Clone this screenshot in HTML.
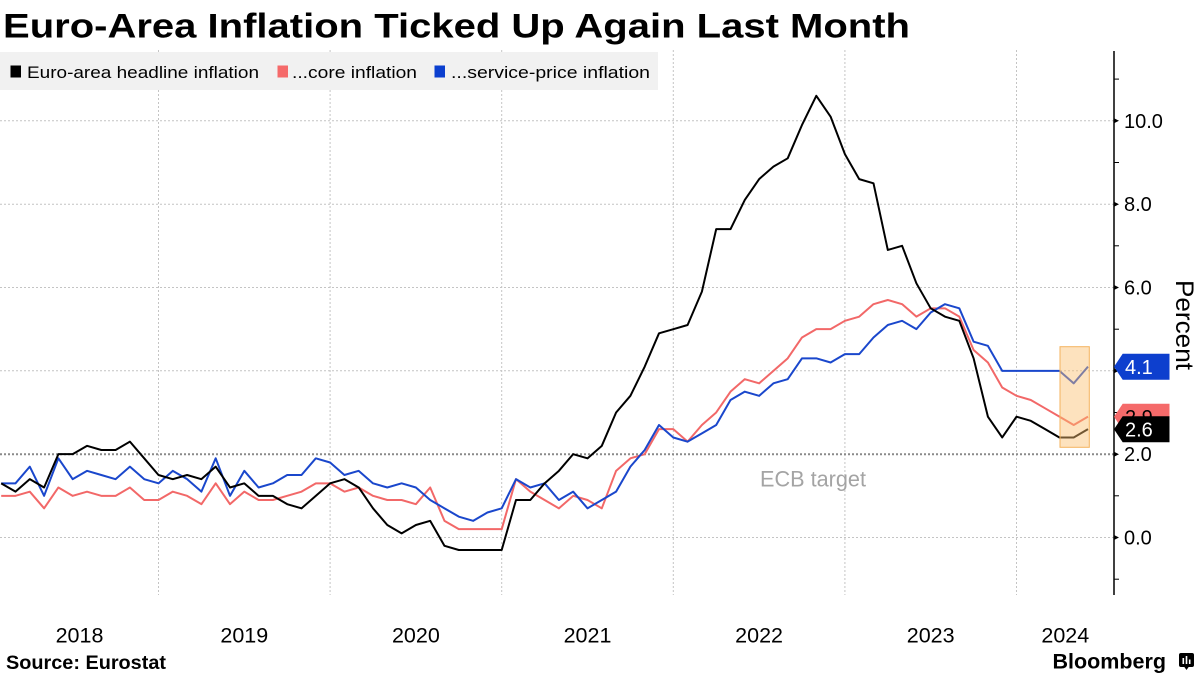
<!DOCTYPE html>
<html>
<head>
<meta charset="utf-8">
<style>
  html,body{margin:0;padding:0;background:#fff;}
  svg{display:block;}
  text{font-family:"Liberation Sans", Arial, sans-serif;}
</style>
</head>
<body>
<svg width="1200" height="675" viewBox="0 0 1200 675" xmlns="http://www.w3.org/2000/svg">
  <rect x="0" y="0" width="1200" height="675" fill="#ffffff"/>

  <!-- Title -->
  <text x="3" y="37.5" font-size="34" font-weight="bold" fill="#000" textLength="907" lengthAdjust="spacingAndGlyphs">Euro-Area Inflation Ticked Up Again Last Month</text>

  <!-- Vertical gridlines (year boundaries) -->
  <g stroke="#c4c4c4" stroke-width="1" stroke-dasharray="2,2" fill="none">
    <line x1="158.5" y1="50" x2="158.5" y2="595"/>
    <line x1="330.1" y1="50" x2="330.1" y2="595"/>
    <line x1="501.7" y1="50" x2="501.7" y2="595"/>
    <line x1="673.3" y1="50" x2="673.3" y2="595"/>
    <line x1="844.9" y1="50" x2="844.9" y2="595"/>
    <line x1="1016.5" y1="50" x2="1016.5" y2="595"/>
  </g>
  <!-- Horizontal gridlines -->
  <g stroke="#c4c4c4" stroke-width="1" stroke-dasharray="2,2" fill="none">
    <line x1="0" y1="120.8" x2="1114" y2="120.8"/>
    <line x1="0" y1="204.2" x2="1114" y2="204.2"/>
    <line x1="0" y1="287.5" x2="1114" y2="287.5"/>
    <line x1="0" y1="370.8" x2="1114" y2="370.8"/>
    <line x1="0" y1="537.5" x2="1114" y2="537.5"/>
  </g>

  <!-- Legend box -->
  <rect x="0" y="52" width="658" height="38" fill="#f1f1f1"/>
  <rect x="10.5" y="65.5" width="10.5" height="12" fill="#000"/>
  <text x="27" y="78" font-size="17" fill="#000" textLength="232" lengthAdjust="spacingAndGlyphs">Euro-area headline inflation</text>
  <rect x="277.5" y="65.5" width="10.5" height="12" fill="#f56a6a"/>
  <text x="292" y="78" font-size="17" fill="#000" textLength="125" lengthAdjust="spacingAndGlyphs">...core inflation</text>
  <rect x="434.5" y="65.5" width="10.5" height="12" fill="#0b3fcf"/>
  <text x="451" y="78" font-size="17" fill="#000" textLength="199" lengthAdjust="spacingAndGlyphs">...service-price inflation</text>

  <!-- ECB target line -->
  <line x1="0" y1="454.2" x2="1114" y2="454.2" stroke="#8a8a8a" stroke-width="2" stroke-dasharray="2,2"/>
  <text x="760" y="486.5" font-size="22" fill="#a4a4a4" textLength="106" lengthAdjust="spacingAndGlyphs">ECB target</text>

  <!-- Series -->
  <g transform="matrix(14.3 0 0 -41.67 1.2 537.5)" fill="none" stroke-linejoin="round">
    <polyline vector-effect="non-scaling-stroke" stroke="#f26868" stroke-width="2"
      points="0,1 1,1 2,1.1 3,0.7 4,1.2 5,1 6,1.1 7,1 8,1 9,1.2 10,0.9 11,0.9 12,1.1 13,1 14,0.8 15,1.3 16,0.8 17,1.1 18,0.9 19,0.9 20,1 21,1.1 22,1.3 23,1.3 24,1.1 25,1.2 26,1 27,0.9 28,0.9 29,0.8 30,1.2 31,0.4 32,0.2 33,0.2 34,0.2 35,0.2 36,1.4 37,1.1 38,0.9 39,0.7 40,1 41,0.9 42,0.7 43,1.6 44,1.9 45,2 46,2.6 47,2.6 48,2.3 49,2.7 50,3 51,3.5 52,3.8 53,3.7 54,4 55,4.3 56,4.8 57,5 58,5 59,5.2 60,5.3 61,5.6 62,5.7 63,5.6 64,5.3 65,5.5 66,5.5 67,5.3 68,4.5 69,4.2 70,3.6 71,3.4 72,3.3 73,3.1 74,2.9 75,2.7 76,2.9"/>
    <polyline vector-effect="non-scaling-stroke" stroke="#1a47cc" stroke-width="2"
      points="0,1.3 1,1.3 2,1.7 3,1 4,1.9 5,1.4 6,1.6 7,1.5 8,1.4 9,1.7 10,1.4 11,1.3 12,1.6 13,1.4 14,1.1 15,1.9 16,1 17,1.6 18,1.2 19,1.3 20,1.5 21,1.5 22,1.9 23,1.8 24,1.5 25,1.6 26,1.3 27,1.2 28,1.3 29,1.2 30,0.9 31,0.7 32,0.5 33,0.4 34,0.6 35,0.7 36,1.4 37,1.2 38,1.3 39,0.9 40,1.1 41,0.7 42,0.9 43,1.1 44,1.7 45,2.1 46,2.7 47,2.4 48,2.3 49,2.5 50,2.7 51,3.3 52,3.5 53,3.4 54,3.7 55,3.8 56,4.3 57,4.3 58,4.2 59,4.4 60,4.4 61,4.8 62,5.1 63,5.2 64,5 65,5.4 66,5.6 67,5.5 68,4.7 69,4.6 70,4 71,4 72,4 73,4 74,4 75,3.7 76,4.1"/>
    <polyline vector-effect="non-scaling-stroke" stroke="#000000" stroke-width="2"
      points="0,1.3 1,1.1 2,1.4 3,1.2 4,2 5,2 6,2.2 7,2.1 8,2.1 9,2.3 10,1.9 11,1.5 12,1.4 13,1.5 14,1.4 15,1.7 16,1.2 17,1.3 18,1 19,1 20,0.8 21,0.7 22,1 23,1.3 24,1.4 25,1.2 26,0.7 27,0.3 28,0.1 29,0.3 30,0.4 31,-0.2 32,-0.3 33,-0.3 34,-0.3 35,-0.3 36,0.9 37,0.9 38,1.3 39,1.6 40,2 41,1.9 42,2.2 43,3 44,3.4 45,4.1 46,4.9 47,5 48,5.1 49,5.9 50,7.4 51,7.4 52,8.1 53,8.6 54,8.9 55,9.1 56,9.9 57,10.6 58,10.1 59,9.2 60,8.6 61,8.5 62,6.9 63,7 64,6.1 65,5.5 66,5.3 67,5.2 68,4.3 69,2.9 70,2.4 71,2.9 72,2.8 73,2.6 74,2.4 75,2.4 76,2.6"/>
  </g>

  <!-- Highlight box -->
  <rect x="1060" y="346.7" width="29.3" height="100.6" fill="rgba(251,190,110,0.45)" stroke="#f4b35e" stroke-width="1"/>

  <!-- Right axis -->
  <line x1="1114" y1="51" x2="1114" y2="595" stroke="#000" stroke-width="1.5"/>
  <g stroke="#000" stroke-width="1">
    <line x1="1114" y1="79.1" x2="1119" y2="79.1"/>
    <line x1="1114" y1="162.5" x2="1119" y2="162.5"/>
    <line x1="1114" y1="245.8" x2="1119" y2="245.8"/>
    <line x1="1114" y1="329.2" x2="1119" y2="329.2"/>
    <line x1="1114" y1="412.5" x2="1119" y2="412.5"/>
    <line x1="1114" y1="495.8" x2="1119" y2="495.8"/>
    <line x1="1114" y1="579.2" x2="1119" y2="579.2"/>
  </g>
  <g fill="#000">
    <path d="M1114,118.3 L1119,120.8 L1114,123.3 Z"/>
    <path d="M1114,201.7 L1119,204.2 L1114,206.7 Z"/>
    <path d="M1114,285 L1119,287.5 L1114,290 Z"/>
    <path d="M1114,368.3 L1119,370.8 L1114,373.3 Z"/>
    <path d="M1114,451.7 L1119,454.2 L1114,456.7 Z"/>
    <path d="M1114,535 L1119,537.5 L1114,540 Z"/>
  </g>
  <g font-size="20" fill="#000">
    <text x="1124" y="127.8">10.0</text>
    <text x="1124" y="211.2">8.0</text>
    <text x="1124" y="294.5">6.0</text>
    <text x="1124" y="377.8">4.0</text>
    <text x="1124" y="461.2">2.0</text>
    <text x="1124" y="544.5">0.0</text>
  </g>
  <text transform="translate(1176,280) rotate(90)" font-size="25" fill="#000" textLength="90" lengthAdjust="spacingAndGlyphs">Percent</text>

  <!-- Value tags -->
  <path d="M1114,366.7 L1122.7,353.7 L1169.5,353.7 L1169.5,379.7 L1122.7,379.7 Z" fill="#0d3fce"/>
  <text x="1125" y="374" font-size="20" fill="#fff">4.1</text>
  <path d="M1114,416.7 L1122.7,403.7 L1169.5,403.7 L1169.5,429.7 L1122.7,429.7 Z" fill="#f56a6a"/>
  <text x="1125" y="424" font-size="20" fill="#000">2.9</text>
  <path d="M1114,429.2 L1122.7,416.2 L1169.5,416.2 L1169.5,442.2 L1122.7,442.2 Z" fill="#000"/>
  <text x="1125" y="436.5" font-size="20" fill="#fff">2.6</text>

  <!-- X axis labels -->
  <g font-size="21.5" fill="#000" text-anchor="middle">
    <text x="79.5" y="642.5">2018</text>
    <text x="244.3" y="642.5">2019</text>
    <text x="415.9" y="642.5">2020</text>
    <text x="587.5" y="642.5">2021</text>
    <text x="759.1" y="642.5">2022</text>
    <text x="930.7" y="642.5">2023</text>
    <text x="1065.3" y="642.5">2024</text>
  </g>

  <!-- Footer -->
  <text x="6" y="669" font-size="19" font-weight="bold" fill="#000" textLength="160" lengthAdjust="spacingAndGlyphs">Source: Eurostat</text>
  <text x="1052.5" y="668.5" font-size="21" font-weight="bold" fill="#000" textLength="113.5" lengthAdjust="spacingAndGlyphs">Bloomberg</text>
  <g>
    <rect x="1179" y="653" width="15" height="14" rx="2" fill="#000"/>
    <path d="M1184,666.5 L1186.5,670 L1189,666.5 Z" fill="#000"/>
    <rect x="1182.5" y="658" width="1.6" height="6" fill="#fff"/>
    <rect x="1185.7" y="656" width="1.6" height="8" fill="#fff"/>
    <rect x="1188.9" y="659.5" width="1.6" height="4.5" fill="#fff"/>
  </g>
</svg>
</body>
</html>
